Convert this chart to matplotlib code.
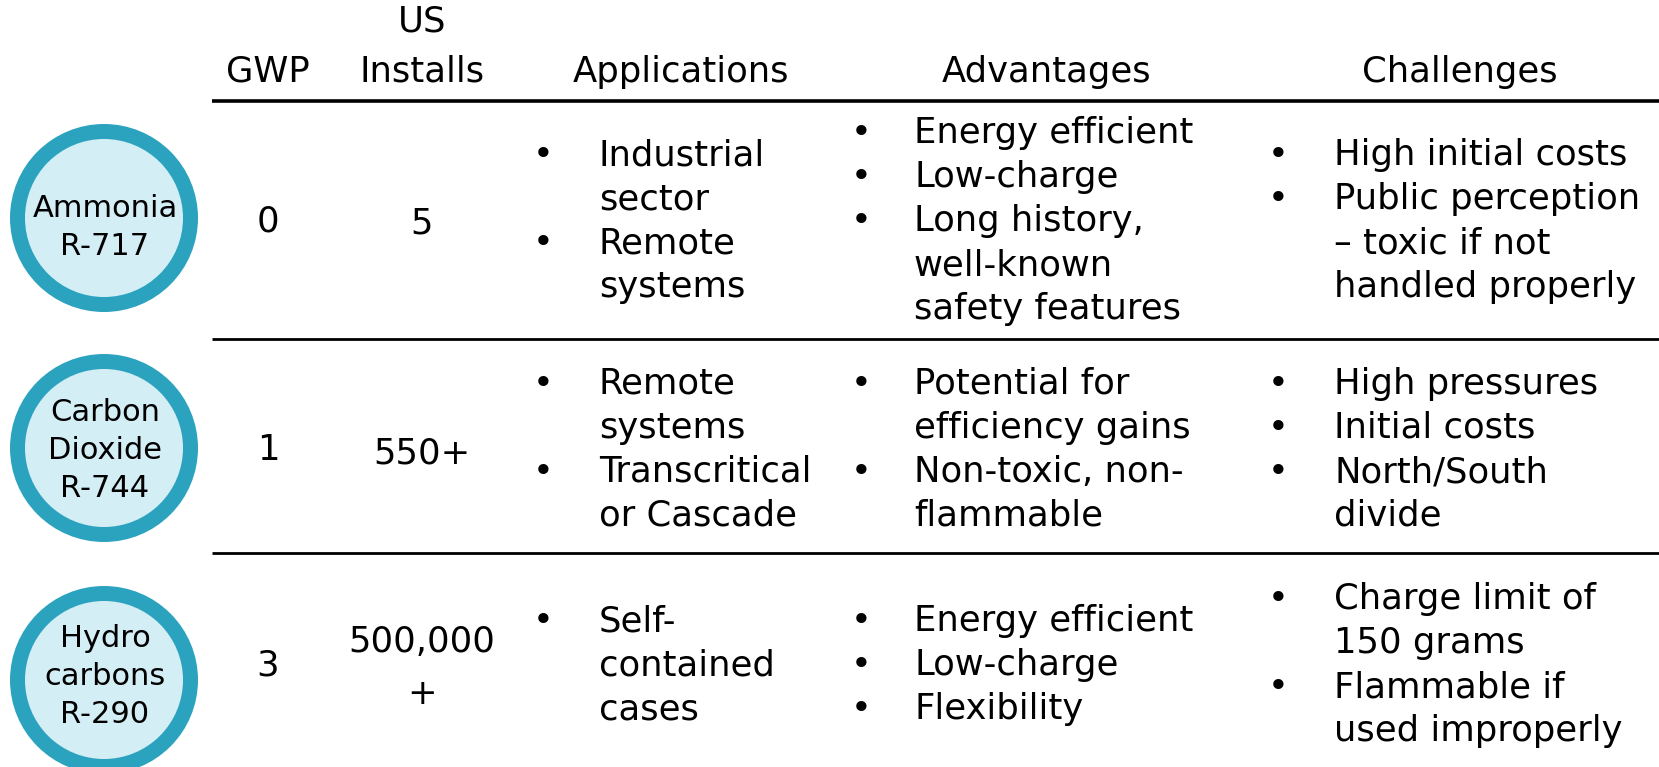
import matplotlib.pyplot as plt
from matplotlib.patches import Circle

# table content
refrigerants = ["Ammonia\nR-717", "Carbon\nDioxide\nR-744", "Hydro\ncarbons\nR-290"]
gwp = ["0", "1", "3"]
us_installs = ["5", "550+", "500,000\n+"]
headers = ["GWP", "US\nInstalls", "Applications", "Advantages", "Challenges"]

applications = [
    ["Industrial\nsector", "Remote\nsystems"],
    ["Remote\nsystems", "Transcritical\nor Cascade"],
    ["Self-\ncontained\ncases"],
]
advantages = [
    ["Energy efficient", "Low-charge", "Long history,\nwell-known\nsafety features"],
    ["Potential for\nefficiency gains", "Non-toxic, non-\nflammable"],
    ["Energy efficient", "Low-charge", "Flexibility"],
]
challenges = [
    ["High initial costs", "Public perception\n– toxic if not\nhandled properly"],
    ["High pressures", "Initial costs", "North/South\ndivide"],
    ["Charge limit of\n150 grams", "Flammable if\nused improperly"],
]

RING = "#2ba3bf"
FILL = "#d4eef5"

W, H = 1659, 767
fig = plt.figure(figsize=(W / 100, H / 100), dpi=100)
ax = fig.add_axes([0, 0, 1, 1])
ax.set_xlim(0, W)
ax.set_ylim(H, 0)
ax.axis("off")

FS = 25.5      # table text size (pt)
FS_C = 22      # circle label size (pt)
LINE = 44      # line pitch in px
CAP = 13       # cap-centre to baseline offset, px
CAP_C = 11

row_mid = [218, 447, 662]
circle_y = [218, 448, 680]
label_shift = [7, 0, -6]
col_x = [268, 422]
bullet_x = [543, 861, 1278]
text_x = [599, 914, 1334]

# header
ax.text(268, 69 + CAP, headers[0], fontsize=FS, ha="center", va="baseline")
ax.text(422, 19 + CAP, headers[1].split("\n")[0], fontsize=FS, ha="center", va="baseline")
ax.text(422, 69 + CAP, headers[1].split("\n")[1], fontsize=FS, ha="center", va="baseline")
for x, h in zip([681, 1047, 1460], headers[2:]):
    ax.text(x, 69 + CAP, h, fontsize=FS, ha="center", va="baseline")

ax.plot([212, W], [101, 101], color="black", lw=2.6, solid_capstyle="butt")
for y in [339, 553]:
    ax.plot([212, W], [y, y], color="black", lw=2.0, solid_capstyle="butt")


def centred_lines(x, yc, text, pitch, fs, off):
    lines = text.split("\n")
    n = len(lines)
    for i, ln in enumerate(lines):
        y = yc + (i - (n - 1) / 2) * pitch
        ax.text(x, y + off, ln, fontsize=fs, ha="center", va="baseline")


def bullet_block(bx, tx, yc, items):
    rows = []
    for item in items:
        for j, ln in enumerate(item.split("\n")):
            rows.append((j == 0, ln))
    n = len(rows)
    for i, (first, ln) in enumerate(rows):
        y = yc + (i - (n - 1) / 2) * LINE + CAP
        if first:
            ax.text(bx, y, "•", fontsize=FS, ha="center", va="baseline")
        ax.text(tx, y, ln, fontsize=FS, ha="left", va="baseline")


for r in range(3):
    cy = circle_y[r]
    ax.add_patch(Circle((104, cy), 94, facecolor=RING, edgecolor="none"))
    ax.add_patch(Circle((104, cy), 79, facecolor=FILL, edgecolor="none"))
    centred_lines(105, cy + label_shift[r], refrigerants[r], 38, FS_C, CAP_C)

    centred_lines(col_x[0], row_mid[r], gwp[r], LINE, FS, CAP)
    centred_lines(col_x[1], row_mid[r] + 3, us_installs[r], 51, FS, CAP)

    for k, col in enumerate([applications, advantages, challenges]):
        bullet_block(bullet_x[k], text_x[k], row_mid[r], col[r])

fig.savefig("out.png", dpi=100)
